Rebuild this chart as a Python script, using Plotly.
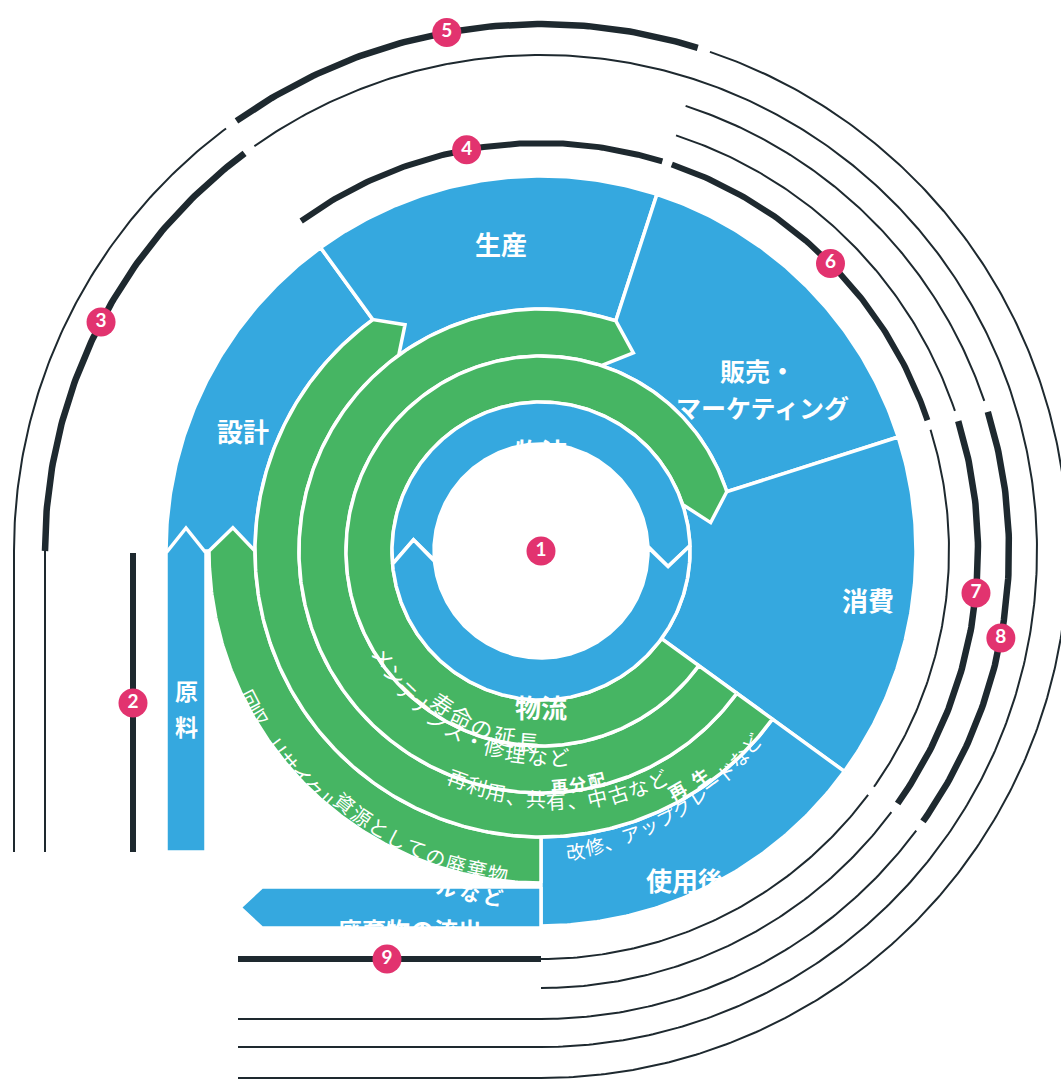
import numpy as np
import plotly.graph_objects as go

W, H = 1061, 1079
CX, CY = 541, 551

BLUE = "#35A8DF"
GREEN = "#46B563"
DARK = "#1E292F"
PINK = "#E2336F"
WHITE = "#FFFFFF"
FONT = "Noto Sans CJK JP"

# ---------------- data ----------------
# outer life-cycle stages (angles in degrees, counter-clockwise from east)
stage_labels = ["設計", "生産", "販売・", "マーケティング", "消費", "使用後"]
stage_start = [180, 126, 72, 17.7, -36]
stage_end = [126, 72, 17.7, -36, -90]
stage_r_in = [286, 242, 195, 149, 286]
stage_r_out = 375
stage_label_angle = [158, 97.4, 39.9, 33.0, -8.5, -66.4]
stage_label_r = [321, 310, 282, 264, 331, 359]
stage_label_size = [26, 26, 25, 25, 26, 26]

# straight stems: raw material (down the left side) and waste outflow (along the bottom)
stem_labels = ["原", "料", "廃棄物の流出"]
stem_r = [335, 375]
stem_end = [852, 262]
stem_tip = 24
stem_label_y = [690, 726, 929]
stem_label_x = [None, None, 410]
stem_label_size = [23, 23, 24]

# green loops (outermost = recycling loop)
loop_r_in = [286, 242, 195, 149]
loop_r_out = [332, 286, 242, 195]
loop_start = [-90, -36, -36, -36]
loop_base = [-180, -234, -288, -342.3]
loop_tip = [-184.3, -239, -295, -350.5]

# inner logistics ring (two arrows)
inner_label = "物流"
inner_r = [107, 149]
inner_start = [185, 2]
inner_notch = [175, -7]
inner_base = [2, -175]
inner_tip = [-7, -185]
inner_label_r = [101, 155]
inner_label_angle = [90, -90]

# dark outer rings
ring_r = [408, 437, 468, 496, 527]
ring_segs = [
    [("down", 6), ("arc", 126, 72, 6), ("arc", 72, 18, 6), ("arc", 18, -36, 2), ("arc", -36, -90, 2), ("left", 6)],
    [("arc", 72, 18, 2), ("arc", 18, -36, 6.5), ("arc", -36, -90, 2)],
    [("arc", 72, 18, 2), ("arc", 18, -36, 6.5), ("arc", -36, -90, 2), ("left", 2)],
    [("down", 2), ("arc", 180, 126, 6.5), ("arc", 126, -90, 2), ("left", 2)],
    [("down", 2), ("arc", 180, 126, 2), ("arc", 126, 72, 6.5), ("arc", 72, -90, 2), ("left", 2)],
]
ring_down_top = [553, 551, 551, 551, 551]
line_bottom = 852
line_left = 238
GAP_DEG = 0.7

# numbered badges
badge_text = ["1", "2", "3", "4", "5", "6", "7", "8", "9"]
badge_ring = [-1, 0, 3, 0, 4, 0, 1, 2, 0]
badge_kind = ["center", "down", "arc", "arc", "arc", "arc", "arc", "arc", "left"]
badge_pos = [0, 703, 152.5, 100.5, 100.3, 44.8, -5.5, -10.7, 387]

# curved texts along loops
curve_texts = ["寿命の延長", "メンテナンス・修理など", "再分配", "再利用、共有、中古など", "再生",
               "改修、アップグレードなど", "回収、リサイクル", "ルなど", "資源としての廃棄物"]
curve_r0 = [181, 190, 235, 242, 275, 301, 327, 349, 319]
curve_r1 = [190, 207, 235, 257, 276, 284, 329, 349, 325]
curve_a0 = [-122.8, -146, -85.6, -110, -60.4, -83.5, -153, -105.6, -127.9]
curve_a1 = [-94, -85, -76.4, -63, -54.9, -42.6, -130.6, -97.9, -97.6]
curve_size = [22, 21, 17, 20, 18, 19, 20, 20, 20]
curve_bold = [False, False, True, False, True, False, False, True, False]


# ---------------- helpers ----------------
def pol(r, a):
    t = np.radians(a)
    return CX + r * np.cos(t), CY - r * np.sin(t)


def arc(r, a0, a1):
    n = max(6, int(abs(a1 - a0) * 2))
    t = np.radians(np.linspace(a0, a1, n))
    return list(CX + r * np.cos(t)), list(CY - r * np.sin(t))


def band_poly(rin, rout, a_start, a_base, a_tip=None, a_notch=None):
    xo, yo = arc(rout, a_start, a_base)
    xi, yi = arc(rin, a_base, a_start)
    rm = (rin + rout) / 2
    xs, ys = xo[:], yo[:]
    if a_tip is not None:
        x, y = pol(rm, a_tip)
        xs.append(x); ys.append(y)
    xs += xi; ys += yi
    if a_notch is not None:
        x, y = pol(rm, a_notch)
        xs.append(x); ys.append(y)
    xs.append(xs[0]); ys.append(ys[0])
    return xs, ys


fig = go.Figure()


def add_shape(xs, ys, color):
    fig.add_trace(go.Scatter(x=xs, y=ys, mode="lines", fill="toself", fillcolor=color,
                             line=dict(color=WHITE, width=3.5), hoverinfo="skip"))


# stages
for i in range(len(stage_start)):
    xs, ys = band_poly(stage_r_in[i], stage_r_out, stage_start[i], stage_end[i])
    add_shape(xs, ys, BLUE)

# stems
x0, x1 = CX - stem_r[1], CX - stem_r[0]
top = CY + 2
add_shape([x0, x0, (x0 + x1) / 2, x1, x1, x0],
          [stem_end[0], top, top - stem_tip - 1, top, stem_end[0], stem_end[0]], BLUE)
y0, y1 = CY + stem_r[0] + 1, CY + stem_r[1] + 2
add_shape([CX, stem_end[1], stem_end[1] - stem_tip + 2, stem_end[1], CX, CX],
          [y0, y0, (y0 + y1) / 2, y1, y1, y0], BLUE)

# green loops
for i in range(len(loop_r_in)):
    xs, ys = band_poly(loop_r_in[i], loop_r_out[i], loop_start[i], loop_base[i], loop_tip[i])
    add_shape(xs, ys, GREEN)

# inner ring
for i in range(2):
    xs, ys = band_poly(inner_r[0], inner_r[1], inner_start[i], inner_base[i], inner_tip[i], inner_notch[i])
    add_shape(xs, ys, BLUE)

# dark rings
for ri, segs in enumerate(ring_segs):
    r = ring_r[ri]
    for si, seg in enumerate(segs):
        kind = seg[0]
        if kind == "down":
            xs, ys = [CX - r, CX - r], [ring_down_top[ri], line_bottom]
            w = seg[1]
        elif kind == "left":
            xs, ys = [CX, line_left], [CY + r, CY + r]
            w = seg[1]
        else:
            a0, a1, w = seg[1], seg[2], seg[3]
            if si > 0 and segs[si - 1][0] == "arc":
                a0 -= GAP_DEG
            if si < len(segs) - 1 and segs[si + 1][0] == "arc":
                a1 += GAP_DEG
            xs, ys = arc(r, a0, a1)
        fig.add_trace(go.Scatter(x=xs, y=ys, mode="lines", line=dict(color=DARK, width=w),
                                 hoverinfo="skip"))

# badges
bx, by = [], []
for i in range(len(badge_text)):
    k = badge_kind[i]
    if k == "center":
        x, y = CX, CY
    elif k == "down":
        x, y = CX - ring_r[badge_ring[i]], badge_pos[i]
    elif k == "left":
        x, y = badge_pos[i], CY + ring_r[badge_ring[i]]
    else:
        x, y = pol(ring_r[badge_ring[i]], badge_pos[i])
    bx.append(x); by.append(y)
fig.add_trace(go.Scatter(x=bx, y=by, mode="markers+text",
                         marker=dict(size=29, color=PINK, line=dict(width=0)),
                         text=["<b>%s</b>" % t for t in badge_text], textposition="middle center",
                         textfont=dict(family="Lato", size=19, color=WHITE), hoverinfo="skip"))

annotations = []


def label(x, y, text, size, bold=True, angle=0):
    annotations.append(dict(x=x, y=y, xref="x", yref="y", showarrow=False,
                            text=("<b>%s</b>" % text) if bold else text, textangle=angle,
                            font=dict(family=FONT, size=size, color=WHITE),
                            xanchor="center", yanchor="middle", borderpad=0))


for i, t in enumerate(stage_labels):
    x, y = pol(stage_label_r[i], stage_label_angle[i])
    label(x, y, t, stage_label_size[i])

stem_x = CX - (stem_r[0] + stem_r[1]) / 2
for i, t in enumerate(stem_labels):
    label(stem_x if stem_label_x[i] is None else stem_label_x[i], stem_label_y[i], t,
          stem_label_size[i])

for i in range(2):
    x, y = pol(inner_label_r[i], inner_label_angle[i])
    label(x, y, inner_label, 26)

for i, t in enumerate(curve_texts):
    n = len(t)
    for j, ch in enumerate(t):
        f = j / (n - 1) if n > 1 else 0
        a = curve_a0[i] + (curve_a1[i] - curve_a0[i]) * f
        r = curve_r0[i] + (curve_r1[i] - curve_r0[i]) * f
        x, y = pol(r, a)
        label(x, y, ch, curve_size[i], curve_bold[i], -(a + 90))

fig.update_layout(
    width=W, height=H, margin=dict(l=0, r=0, t=0, b=0),
    xaxis=dict(range=[0, W], visible=False, fixedrange=True),
    yaxis=dict(range=[H, 0], visible=False, fixedrange=True),
    plot_bgcolor=WHITE, paper_bgcolor=WHITE, showlegend=False, hovermode=False,
    annotations=annotations,
)

fig.write_html("out.html", config={"displayModeBar": False},
               post_script="document.body.style.margin='0';document.body.style.overflow='hidden';")
